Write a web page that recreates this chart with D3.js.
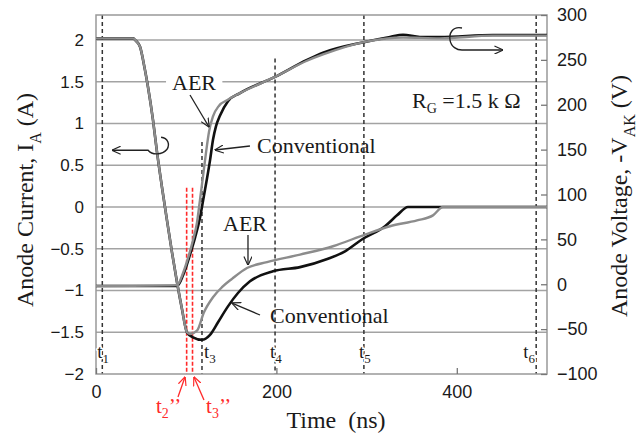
<!DOCTYPE html>
<html><head><meta charset="utf-8">
<script src="https://cdn.jsdelivr.net/npm/d3@7"></script>
<style>
html,body{margin:0;padding:0;background:#fff;}
svg{display:block;}
</style></head><body>
<svg id="chart" width="644" height="436"></svg>
<script>
// ---------- data ----------
const timeTicks = [0, 200, 400];
const currentTicks = [-2, -1.5, -1, -0.5, 0, 0.5, 1, 1.5, 2];
const voltageTicks = [-100, -50, 0, 50, 100, 150, 200, 250, 300];
const gridCurrents = [-1.5, -1, -0.5, 0, 0.5, 1, 1.5, 2];

// Anode current, AER
const timeI_AER = [0,41,44.3,48.8,54.3,57.6,63.2,67.6,73.1,78.7,84.2,89.8,95.3,100.8,104.2,112.0,119.7,129.7,139.7,150.8,167.4,189.6,226.2,262.7,298.2,325.9,355.9,373.6,384.7,500];
const current_AER = [2.02,2.02,1.99,1.92,1.64,1.44,1.04,0.66,0.24,-0.16,-0.54,-0.90,-1.22,-1.50,-1.52,-1.48,-1.26,-1.08,-0.96,-0.86,-0.73,-0.66,-0.57,-0.47,-0.33,-0.23,-0.16,-0.10,0,0];
// Anode current, Conventional
const timeI_Conv = [0,41,44.3,48.8,54.3,57.6,63.2,67.6,73.1,78.7,84.2,89.8,95.3,100.8,107.5,117.5,126.4,135.3,146.3,157.4,170.7,196.2,226.2,257.2,276.1,296.0,320.4,333.7,345.9,500];
const current_Conv = [2.02,2.02,1.99,1.92,1.64,1.44,1.04,0.66,0.24,-0.16,-0.54,-0.90,-1.22,-1.50,-1.56,-1.59,-1.53,-1.38,-1.19,-1.03,-0.89,-0.77,-0.72,-0.62,-0.53,-0.38,-0.23,-0.10,0,0];
// Anode voltage, AER
const timeV_AER = [0,89.8,96.5,102.0,107.5,112.0,115.3,118.6,122.0,125.3,129.7,136.4,145.2,159.6,198.4,233.9,251.7,298.2,340.4,381.4,440.1,500];
const voltage_AER = [-2,-1,12.5,29,49,69,94,120,147,170,187,199,205,213,231,249,256,270,275,274,277,277];
// Anode voltage, Conventional
const timeV_Conv = [0,89.8,96.5,104.2,109.8,115.3,119.7,123.1,126.4,129.7,133.0,137.5,146.3,159.6,198.4,233.9,251.7,298.2,325.9,340.4,359.2,381.4,440.1,500];
const voltage_Conv = [-2,-2,10,33,52,74,99,118,138,161,176,188,204,213,231,250,258,270,275.5,278,275.5,275.5,277.7,277.7];

// time markers
const markerNames = ["1","3","4","5","6"];
const markerTimes = [7, 117.5, 198.5, 297, 488];
const markerTops = [2.3, 0.78, 1.78, 2.3, 2.3];
const redMarkerTimes = [100.5, 107];
const redMarkerTop = 0.23;

// ---------- layout ----------
const W = 644, H = 436;
const M = {l: 96, t: 15, r: 97, b: 62};
const svg = d3.select("#chart");
const SERIF = "'Liberation Serif','Times New Roman',serif";
const SANS = "'Liberation Sans',Arial,sans-serif";

const x = d3.scaleLinear().domain([0, 500]).range([M.l, W - M.r]);
const yI = d3.scaleLinear().domain([-2, 2.3]).range([H - M.b, M.t]);
const yV = d3.scaleLinear().domain([-100, 300]).range([H - M.b, M.t]);

// markers (arrowheads)
const defs = svg.append("defs");
function mk(id, color) {
  defs.append("marker").attr("id", id).attr("viewBox", "0 0 10 10")
    .attr("refX", 9.5).attr("refY", 5).attr("markerWidth", 9).attr("markerHeight", 9)
    .attr("markerUnits", "userSpaceOnUse").attr("orient", "auto")
    .append("path").attr("d", "M0,0.5 L10,5 L0,9.5").attr("fill", "none")
    .attr("stroke", color).attr("stroke-width", 1.3);
}
mk("ah", "#222"); mk("ahr", "#ff2a2a");

// gridlines
svg.append("g").selectAll("line").data(gridCurrents).join("line")
  .attr("x1", x(0)).attr("x2", x(500))
  .attr("y1", d => yI(d)).attr("y2", d => yI(d))
  .attr("stroke", "#a3a3a3").attr("stroke-width", 1.6);

// dashed time markers
svg.append("g").selectAll("line").data(markerTimes).join("line")
  .attr("x1", d => x(d)).attr("x2", d => x(d))
  .attr("y1", (d, i) => yI(markerTops[i])).attr("y2", yI(-2))
  .attr("stroke", "#333").attr("stroke-width", 1.5).attr("stroke-dasharray", "4,3");
svg.append("g").selectAll("line").data(redMarkerTimes).join("line")
  .attr("x1", d => x(d)).attr("x2", d => x(d))
  .attr("y1", yI(redMarkerTop)).attr("y2", yI(-2))
  .attr("stroke", "#ff2a2a").attr("stroke-width", 1.6).attr("stroke-dasharray", "4,2");

// frame
svg.append("rect").attr("x", x(0)).attr("y", yI(2.3))
  .attr("width", x(500) - x(0)).attr("height", yI(-2) - yI(2.3))
  .attr("fill", "none").attr("stroke", "#999").attr("stroke-width", 1.5);

// curves
const lineI = d3.line().x(d => x(d[0])).y(d => yI(d[1])).curve(d3.curveMonotoneX);
const lineV = d3.line().x(d => x(d[0])).y(d => yV(d[1])).curve(d3.curveMonotoneX);
const zip = (a, b) => a.map((v, i) => [v, b[i]]);
const curves = svg.append("g").attr("fill", "none").attr("stroke-linejoin", "round");
curves.append("path").attr("d", lineV(zip(timeV_Conv, voltage_Conv))).attr("stroke", "#111").attr("stroke-width", 2.6);
curves.append("path").attr("d", lineI(zip(timeI_Conv, current_Conv))).attr("stroke", "#111").attr("stroke-width", 2.6);
curves.append("path").attr("d", lineV(zip(timeV_AER, voltage_AER))).attr("stroke", "#8c8c8c").attr("stroke-width", 2.4);
curves.append("path").attr("d", lineI(zip(timeI_AER, current_AER))).attr("stroke", "#8c8c8c").attr("stroke-width", 2.4);

// axes
const fmt = d3.format("");
const gl = svg.append("g").attr("transform", `translate(${x(0)},0)`)
  .call(d3.axisLeft(yI).tickValues(currentTicks).tickSize(0).tickPadding(12).tickFormat(fmt));
gl.select(".domain").remove();
gl.selectAll("text").style("font-family", SANS).style("font-size", "17px").attr("fill", "#1a1a1a");

const gr = svg.append("g").attr("transform", `translate(${x(500)},0)`)
  .call(d3.axisRight(yV).tickValues(voltageTicks).tickSizeInner(-6).tickSizeOuter(0).tickPadding(10).tickFormat(fmt));
gr.select(".domain").remove();
gr.selectAll("line").attr("stroke", "#777").attr("stroke-width", 1.3);
gr.selectAll("text").style("font-family", SANS).style("font-size", "18px").attr("fill", "#1a1a1a");

const gb = svg.append("g").attr("transform", `translate(0,${yI(-2)})`)
  .call(d3.axisBottom(x).tickValues(timeTicks).tickSizeInner(-6).tickSizeOuter(0).tickPadding(11).tickFormat(fmt));
gb.select(".domain").remove();
gb.selectAll("line").attr("stroke", "#777").attr("stroke-width", 1.3);
gb.selectAll("text").style("font-family", SANS).style("font-size", "18px").attr("fill", "#1a1a1a");

// rich text helper
function rich(g, px, py, parts, size, opt = {}) {
  const t = g.append("text").attr("x", px).attr("y", py)
    .style("font-family", SERIF).style("font-size", size + "px")
    .attr("fill", opt.color || "#1a1a1a")
    .attr("text-anchor", opt.anchor || "start")
    .style("white-space", "pre");
  if (opt.transform) t.attr("transform", opt.transform);
  if (opt.halo) t.attr("stroke", "#fff").attr("stroke-width", opt.halo).attr("paint-order", "stroke").attr("stroke-linejoin", "round");
  let shift = 0;
  parts.forEach(p => {
    const s = t.append("tspan").text(p.t);
    const target = p.sub ? (opt.subDy || Math.round(size * 0.35)) : 0;
    if (target !== shift) { s.attr("dy", target - shift); shift = target; }
    if (p.sub) s.style("font-size", (opt.subSize || Math.round(size * 0.68)) + "px");
  });
  return t;
}

// axis titles
const titles = svg.append("g");
rich(titles, 0, 0, [{t: "Anode Current, I"}, {t: "A", sub: true}, {t: " (A)"}], 24,
  {anchor: "middle", transform: `translate(33,200) rotate(-90)`});
rich(titles, 0, 0, [{t: "Anode Voltage, -V"}, {t: "AK", sub: true}, {t: " (V)"}], 24,
  {anchor: "middle", transform: `translate(627,196) rotate(-90)`});
rich(titles, 336, 428, [{t: "Time  (ns)"}], 24, {anchor: "middle"});

// t labels
const tOffsets = [-5, 2, -5, -5, -13];
const tl = svg.append("g");
markerTimes.forEach((tm, i) => {
  rich(tl, x(tm) + tOffsets[i], yI(-2) - 16, [{t: "t"}, {t: markerNames[i], sub: true}], 19,
    {halo: 3, subDy: 5, subSize: 13});
});

// red labels
const rl = svg.append("g");
rich(rl, x(66.5), yI(-2.467), [{t: "t"}, {t: "2", sub: true}, {t: "’’"}], 21, {color: "#ff2a2a", subDy: 5, subSize: 14});
rich(rl, x(122), yI(-2.467), [{t: "t"}, {t: "3", sub: true}, {t: "’’"}], 21, {color: "#ff2a2a", subDy: 5, subSize: 14});
function arrow(g, a, b, yS, color, mid) {
  g.append("line").attr("x1", x(a[0])).attr("y1", yS(a[1])).attr("x2", x(b[0])).attr("y2", yS(b[1]))
    .attr("stroke", color).attr("stroke-width", 1.3).attr("marker-end", `url(#${mid})`);
}
arrow(rl, [90.9, -2.275], [98.7, -2.036], yI, "#ff2a2a", "ahr");
arrow(rl, [119.7, -2.311], [108.6, -2.036], yI, "#ff2a2a", "ahr");

// annotations
const an = svg.append("g");
const aer1 = rich(an, x(84.3), yI(1.40), [{t: "AER"}], 22);
const bb = aer1.node().getBBox();
an.insert("rect", "text").attr("x", bb.x - 6).attr("y", bb.y).attr("width", bb.width + 12).attr("height", bb.height).attr("fill", "#fff");
arrow(an, [104.2, 1.342], [125.3, 0.959], yI, "#222", "ah");

rich(an, x(178.5), yI(0.65), [{t: "Conventional"}], 22);
arrow(an, [170.7, 0.731], [131.9, 0.683], yI, "#222", "ah");

rich(an, x(140.8), yI(-0.29), [{t: "AER"}], 22);
arrow(an, [168.5, -0.335], [168.5, -0.694], yI, "#222", "ah");

rich(an, x(192.9), yI(-1.39), [{t: "Conventional"}], 22);
arrow(an, [181.8, -1.293], [150.8, -1.150], yI, "#222", "ah");

rich(an, x(350.3), yI(1.19), [{t: "R"}, {t: "G", sub: true}, {t: " =1.5 k Ω"}], 22, {subSize: 14, subDy: 5});

// curl arrows
an.append("path").attr("transform", `translate(${x(65.5)},${yI(0.68)})`)
  .attr("d", "M6,-13 C13,-12 15,-6 12,-1 C7,5 -3,5 -7,0 L-43,0")
  .attr("fill", "none").attr("stroke", "#222").attr("stroke-width", 1.4).attr("marker-end", "url(#ah)");
an.append("path").attr("transform", `translate(${x(398)},${yV(275.5)})`)
  .attr("d", "M7,-9 C-3,-11 -6,-3 -5,3 C-4,10 2,13 7,13 L48,13")
  .attr("fill", "none").attr("stroke", "#222").attr("stroke-width", 1.4).attr("marker-end", "url(#ah)");
</script>
</body></html>
